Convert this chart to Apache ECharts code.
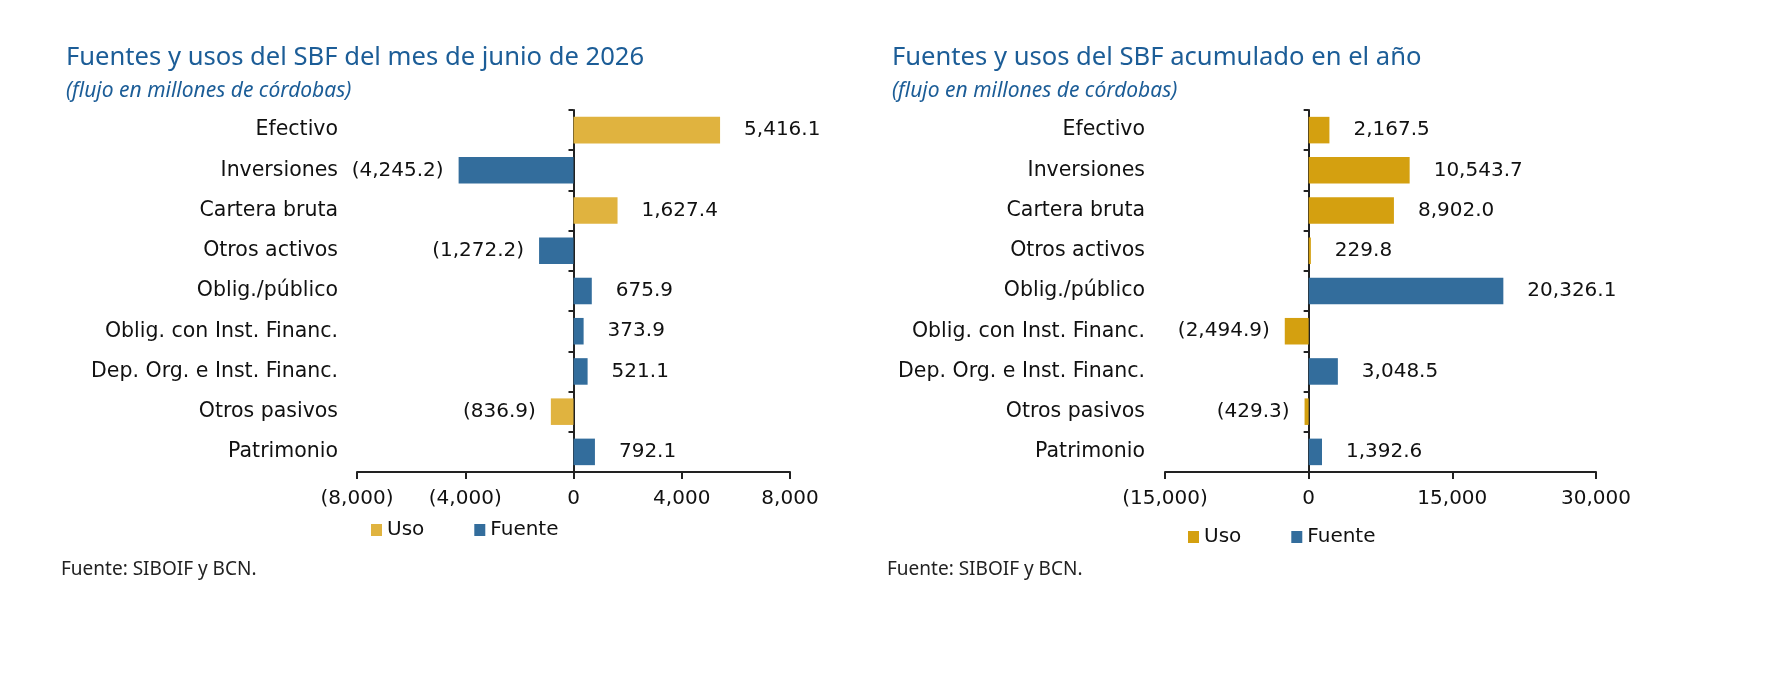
<!DOCTYPE html>
<html>
<head>
<meta charset="utf-8">
<script src="https://cdn.jsdelivr.net/npm/echarts@6/dist/echarts.min.js"></script>
<style>
  html, body { margin: 0; padding: 0; background: #ffffff; }
  #chart { width: 1770px; height: 688px; }
</style>
</head>
<body>
<div id="chart"></div>
<script>
// categorias (de arriba hacia abajo)
const categorias = [
  'Efectivo', 'Inversiones', 'Cartera bruta', 'Otros activos', 'Oblig./público',
  'Oblig. con Inst. Financ.', 'Dep. Org. e Inst. Financ.', 'Otros pasivos', 'Patrimonio'
];

// mes de junio 2026 (millones de córdobas)
const mesUso    = [5416.1, null, 1627.4, null, null, null, null, -836.9, null];
const mesFuente = [null, -4245.2, null, -1272.2, 675.9, 373.9, 521.1, null, 792.1];

// acumulado en el año
const anioUso    = [2167.5, 10543.7, 8902.0, 229.8, null, -2494.9, null, -429.3, null];
const anioFuente = [null, null, null, null, 20326.1, null, 3048.5, null, 1392.6];

// ejes
const mesEje  = { min: -8000, max: 8000, interval: 4000 };
const anioEje = { min: -15000, max: 30000, interval: 15000 };

const AZUL = '#336d9c';
const ORO_MES = '#e0b33f';
const ORO_ANIO = '#d4a010';
const TITULO = '#1c5d97';
const FUENTE_TXT = 'DejaVu Sans';

function fmtNum(v, dec) {
  const s = Math.abs(v).toLocaleString('en-US', { minimumFractionDigits: dec, maximumFractionDigits: dec });
  return v < 0 ? '(' + s + ')' : s;
}

// arma los datos con la etiqueta a la izquierda si el valor es negativo
function armarDatos(valores) {
  return valores.map(v => {
    if (v === null) return '-';
    return v < 0
      ? { value: v, label: { position: 'left', distance: 15 } }
      : { value: v, label: { position: 'right', distance: 24 } };
  });
}

function serie(nombre, valores, color, idx) {
  return {
    name: nombre,
    type: 'bar',
    stack: 'g' + idx,
    xAxisIndex: idx,
    yAxisIndex: idx,
    barWidth: '66%',
    itemStyle: { color: color },
    label: {
      show: true,
      fontFamily: FUENTE_TXT,
      fontSize: 20,
      color: '#111',
      formatter: p => fmtNum(p.value, 1)
    },
    data: armarDatos(valores)
  };
}

function ejeX(idx, eje) {
  return {
    type: 'value',
    gridIndex: idx,
    min: eje.min, max: eje.max, interval: eje.interval,
    splitLine: { show: false },
    axisLine: { show: true, lineStyle: { color: '#222', width: 2 } },
    axisTick: { show: true, length: 7, lineStyle: { color: '#222', width: 2 } },
    axisLabel: {
      fontFamily: FUENTE_TXT, fontSize: 20, color: '#111', margin: 17,
      formatter: v => fmtNum(v, 0)
    }
  };
}

function ejeY(idx, margen) {
  return {
    type: 'category',
    gridIndex: idx,
    inverse: true,
    data: categorias,
    axisLine: { show: true, onZero: true, lineStyle: { color: '#222', width: 2 } },
    axisTick: { show: true, length: 5, lineStyle: { color: '#222', width: 2 } },
    axisLabel: { fontFamily: FUENTE_TXT, fontSize: 20.5, color: '#111', margin: margen }
  };
}

function leyenda(left, top, oro) {
  return {
    left: left, top: top,
    icon: 'rect', itemWidth: 11, itemHeight: 12, itemGap: 50,
    selectedMode: false,
    textStyle: { fontFamily: FUENTE_TXT, fontSize: 20, color: '#111' },
    data: [
      { name: 'Uso', itemStyle: { color: oro } },
      { name: 'Fuente', itemStyle: { color: AZUL } }
    ]
  };
}

const chart = echarts.init(document.getElementById('chart'));

chart.setOption({
  animation: false,
  backgroundColor: '#ffffff',
  title: [
    { text: 'Fuentes y usos del SBF del mes de junio de 2026', left: 61, top: 40,
      textStyle: { fontFamily: 'Noto Sans', fontSize: 25.6, fontWeight: 'normal', color: TITULO } },
    { text: '(flujo en millones de córdobas)', left: 61, top: 76,
      textStyle: { fontFamily: 'Noto Sans', fontSize: 21, fontStyle: 'italic', fontWeight: 'normal', color: TITULO } },
    { text: 'Fuentes y usos del SBF acumulado en el año', left: 887, top: 40,
      textStyle: { fontFamily: 'Noto Sans', fontSize: 25.6, fontWeight: 'normal', color: TITULO } },
    { text: '(flujo en millones de córdobas)', left: 887, top: 76,
      textStyle: { fontFamily: 'Noto Sans', fontSize: 21, fontStyle: 'italic', fontWeight: 'normal', color: TITULO } }
  ],
  legend: [
    leyenda(366, 515, ORO_MES),
    leyenda(1183, 522, ORO_ANIO)
  ],
  grid: [
    { left: 357, right: 980, top: 110, bottom: 216, outerBoundsMode: 'none', containLabel: false },
    { left: 1165, right: 174, top: 110, bottom: 216, outerBoundsMode: 'none', containLabel: false }
  ],
  xAxis: [ejeX(0, mesEje), ejeX(1, anioEje)],
  yAxis: [ejeY(0, 19), ejeY(1, 20)],
  series: [
    serie('Uso', mesUso, ORO_MES, 0),
    serie('Fuente', mesFuente, AZUL, 0),
    serie('Uso', anioUso, ORO_ANIO, 1),
    serie('Fuente', anioFuente, AZUL, 1)
  ],
  graphic: [
    { type: 'text', left: 61, top: 560,
      style: { text: 'Fuente: SIBOIF y BCN.', font: '19px "Noto Sans"', fill: '#222' } },
    { type: 'text', left: 887, top: 560,
      style: { text: 'Fuente: SIBOIF y BCN.', font: '19px "Noto Sans"', fill: '#222' } }
  ]
});
</script>
</body>
</html>
